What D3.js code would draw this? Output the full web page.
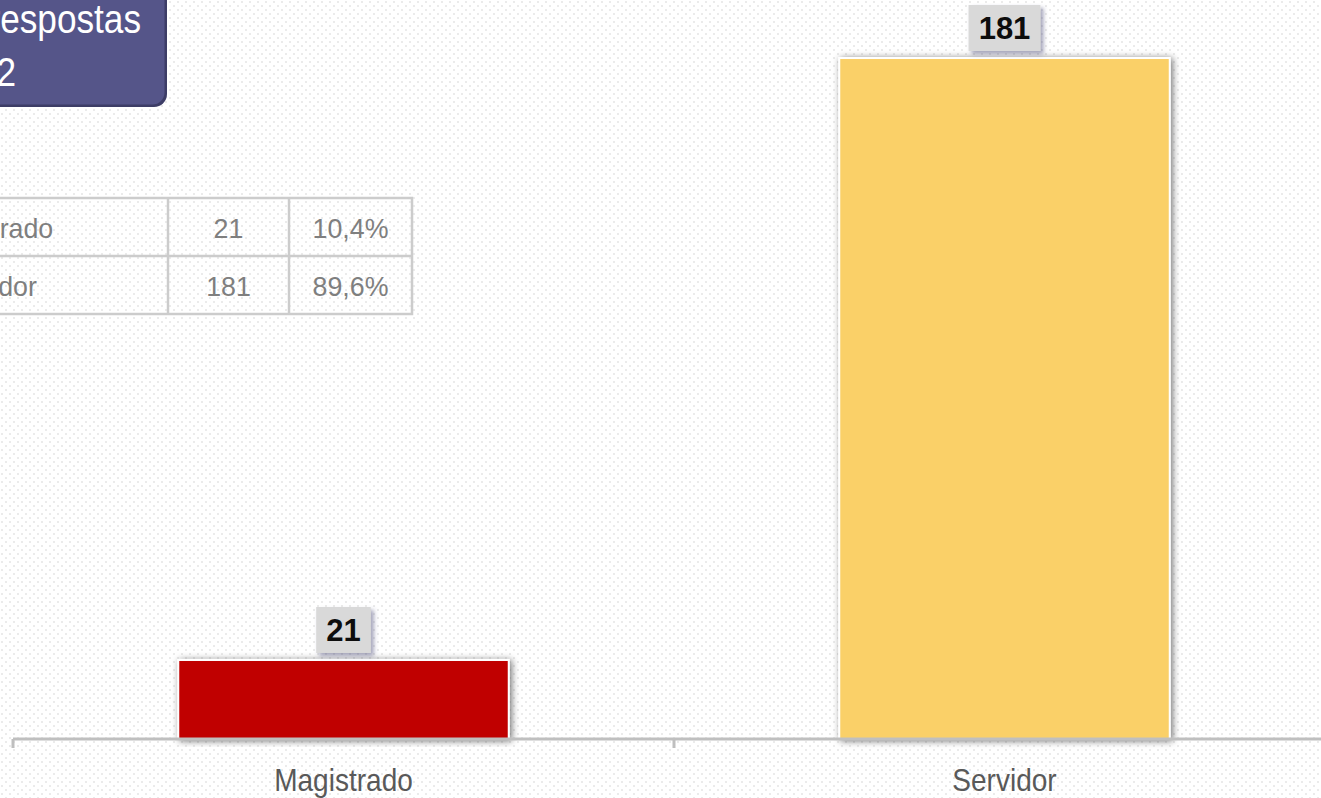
<!DOCTYPE html>
<html>
<head>
<meta charset="utf-8">
<script src="https://cdn.jsdelivr.net/npm/d3@7"></script>
<style>
html,body{margin:0;padding:0;background:#fff;overflow:hidden;}
svg{display:block;font-family:"Liberation Sans",Arial,sans-serif;}
</style>
</head>
<body>
<script>
// ---- data ----
const categories = ["Magistrado", "Servidor"];
const values = [21, 181];
const percents = ["10,4%", "89,6%"];
const barColors = ["#c00000", "#fad068"];
const titleLines = ["Total de respostas", "202"];

const W = 1321, H = 798;
const svg = d3.select("body").append("svg").attr("width", W).attr("height", H);
const defs = svg.append("defs");

// dotted background
const pat = defs.append("pattern").attr("id", "dots").attr("patternUnits", "userSpaceOnUse")
  .attr("width", 8).attr("height", 8);
pat.append("rect").attr("x", 1).attr("y", 1).attr("width", 2).attr("height", 2).attr("fill", "#ebebeb");
pat.append("rect").attr("x", 5).attr("y", 5).attr("width", 2).attr("height", 2).attr("fill", "#ebebeb");
svg.append("rect").attr("width", W).attr("height", H).attr("fill", "url(#dots)");

// filters
const f1 = defs.append("filter").attr("id", "barShadow").attr("x", "-10%").attr("y", "-10%").attr("width", "120%").attr("height", "120%");
f1.append("feDropShadow").attr("dx", 2).attr("dy", 1).attr("stdDeviation", 3.5).attr("flood-color", "#000").attr("flood-opacity", 0.55);
const f2 = defs.append("filter").attr("id", "lblShadow").attr("x", "-30%").attr("y", "-30%").attr("width", "160%").attr("height", "160%");
f2.append("feDropShadow").attr("dx", 3).attr("dy", 3).attr("stdDeviation", 2).attr("flood-color", "#4a4a78").attr("flood-opacity", 0.5);

// helper: horizontally condensed text
function condText(sel, tx, ty, sx, str, size, fill, anchor) {
  const g = sel.append("g").attr("transform", `translate(${tx},${ty}) scale(${sx},1)`);
  g.append("text").attr("text-anchor", anchor || "middle").attr("font-size", size).attr("fill", fill).text(str);
  return g;
}

// scales
const x = d3.scaleBand().domain(categories).range([13, 1335]).paddingInner(0).paddingOuter(0);
const y = d3.scaleLinear().domain([0, 181]).range([739, 58]);
const barW = x.bandwidth() * 0.5;

// bars
svg.append("g").selectAll("rect").data(categories).join("rect")
  .attr("x", d => x(d) + (x.bandwidth() - barW) / 2)
  .attr("y", (d, i) => y(values[i]))
  .attr("width", barW)
  .attr("height", (d, i) => y(0) - y(values[i]))
  .attr("fill", (d, i) => barColors[i])
  .attr("stroke", "#ffffff").attr("stroke-width", 2)
  .attr("filter", "url(#barShadow)");

// x axis
const axis = svg.append("g").attr("transform", "translate(0,739)")
  .call(d3.axisBottom(x).tickSize(0).tickFormat(""));
axis.select(".domain").remove();
axis.selectAll(".tick").remove();
axis.append("line").attr("x1", 13).attr("x2", W).attr("y1", 0).attr("y2", 0)
  .attr("stroke", "#bfbfbf").attr("stroke-width", 3);
const boundaries = [x(categories[0]), x(categories[1])];
axis.selectAll(".bnd").data(boundaries).join("line").attr("class", "bnd")
  .attr("x1", d => d).attr("x2", d => d).attr("y1", 0).attr("y2", 9)
  .attr("stroke", "#bfbfbf").attr("stroke-width", 3);
categories.forEach(c => condText(axis, x(c) + x.bandwidth() / 2, 52, 0.89, c, 31.5, "#595959"));

// value labels
const lg = svg.append("g").selectAll("g").data(categories).join("g")
  .attr("transform", (d, i) => `translate(${x(d) + x.bandwidth() / 2},${y(values[i]) - 30})`);
lg.append("rect")
  .attr("x", (d, i) => -(String(values[i]).length * 17.3 + 20) / 2)
  .attr("y", -23).attr("height", 46)
  .attr("width", (d, i) => String(values[i]).length * 17.3 + 20)
  .attr("fill", "#d9d9d9").attr("filter", "url(#lblShadow)");
lg.append("text").attr("text-anchor", "middle").attr("y", 11)
  .attr("font-size", 31).attr("font-weight", "bold").attr("fill", "#0d0d0d")
  .text((d, i) => values[i]);

// title box
const tg = svg.append("g");
tg.append("rect").attr("x", -40).attr("y", -40).attr("width", 207).attr("height", 147).attr("rx", 13)
  .attr("fill", "#3d3d66");
tg.append("rect").attr("x", -40).attr("y", -40).attr("width", 204.5).attr("height", 144.5).attr("rx", 12)
  .attr("fill", "#555589");
titleLines.forEach((t, i) => condText(tg, i === 0 ? 141 : 16, 33 + i * 53, 0.88, t, 40, "#ffffff", "end"));

// table
const colEdges = [-194, 168, 289, 412];
const rowEdges = [198, 256, 314];
const table = svg.append("g");
table.append("rect").attr("x", colEdges[0]).attr("y", rowEdges[0])
  .attr("width", colEdges[3] - colEdges[0]).attr("height", rowEdges[2] - rowEdges[0])
  .attr("fill", "none").attr("stroke", "#cccccc").attr("stroke-width", 2.5);
table.selectAll(".vl").data(colEdges.slice(1, 3)).join("line").attr("class", "vl")
  .attr("x1", d => d).attr("x2", d => d).attr("y1", rowEdges[0]).attr("y2", rowEdges[2])
  .attr("stroke", "#cccccc").attr("stroke-width", 2.5);
table.append("line").attr("x1", colEdges[0]).attr("x2", colEdges[3]).attr("y1", rowEdges[1]).attr("y2", rowEdges[1])
  .attr("stroke", "#cccccc").attr("stroke-width", 2.5);
categories.forEach((c, i) => {
  const cells = [c, String(values[i]), percents[i]];
  cells.forEach((t, j) => {
    condText(table,
      j === 0 ? -13 : (colEdges[j] + colEdges[j + 1]) / 2,
      (rowEdges[i] + rowEdges[i + 1]) / 2 + 11,
      0.94, t, 28.5, "#7f7f7f");
  });
});
</script>
</body>
</html>
